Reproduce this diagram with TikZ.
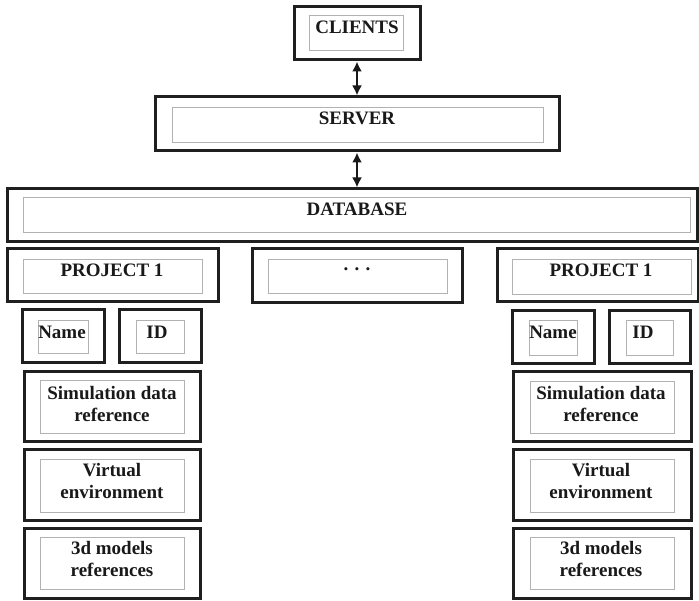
\documentclass[tikz,border=0pt]{standalone}
\usepackage{fontspec}
\setmainfont{Liberation Serif}
\usetikzlibrary{fit,arrows.meta}
\tikzset{
  outerbox/.style={draw=black!88, line width=3pt, inner sep=0pt, fill=white},
  innerbox/.style={draw=black!30, line width=0.9pt, inner sep=0pt},
  lbl/.style={font=\bfseries\fontsize{19}{22}\selectfont, text=black!90, align=center, inner sep=0pt},
  biarrow/.style={line width=2.6pt, draw=black!90, {Latex[length=10pt,width=10pt]}-{Latex[length=10pt,width=10pt]}}
}
\begin{document}
\begin{tikzpicture}[x=1pt,y=-1pt]
\useasboundingbox (0,0) rectangle (699,601);
% Clients
\node[outerbox, fit={(294,7)(420,60)}] (clients) {};
\node[innerbox, fit={(309,15)(403,50)}] (clientsin) {};
\node[lbl] (clientst) at (357,27) {CLIENTS};
% Server
\node[outerbox, fit={(155,97)(559,151)}] (server) {};
\node[innerbox, fit={(172,107)(543,142)}] (serverin) {};
\node[lbl] (servert) at (357,118) {SERVER};
% Database
\node[outerbox, fit={(7,189)(697,242)}] (db) {};
\node[innerbox, fit={(23,197)(690,232)}] (dbin) {};
\node[lbl] (dbt) at (357,209) {DATABASE};
% Arrows
\draw[biarrow] (clients.south) -- (server.north);
\draw[biarrow] (server.south) -- (server.south |- db.north);
% Projects row
\node[outerbox, fit={(7,249)(218,302)}] (p1) {};
\node[innerbox, fit={(23,259)(202,293)}] (p1in) {};
\node[lbl] (p1t) at (112,270) {PROJECT 1};
\node[outerbox, fit={(252,249)(462,303)}] (pm) {};
\node[innerbox, fit={(268,259)(447,293)}] (pmin) {};
\node[lbl] (pmt) at (357,269) {.\,\,.\,\,.};
\node[outerbox, fit={(497,249)(698,302)}] (p2) {};
\node[innerbox, fit={(512,259)(691,294)}] (p2in) {};
\node[lbl] (p2t) at (601,270) {PROJECT 1};
% Left column
\node[outerbox, fit={(22,310)(104,363)}] (ln) {};
\node[innerbox, fit={(38,320)(88,353)}] (lnin) {};
\node[lbl] (lnt) at (62,332) {Name};
\node[outerbox, fit={(119,310)(201,363)}] (lid) {};
\node[innerbox, fit={(136,320)(184,353)}] (lidin) {};
\node[lbl] (lidt) at (157,332) {ID};
\node[outerbox, fit={(24,372)(200,442)}] (ls) {};
\node[innerbox, fit={(40,380)(184,433)}] (lsin) {};
\node[lbl] (lst) at (112,404) {Simulation data\\reference};
\node[outerbox, fit={(24,450)(200,520)}] (lv) {};
\node[innerbox, fit={(40,459)(184,512)}] (lvin) {};
\node[lbl] (lvt) at (112,481) {Virtual\\environment};
\node[outerbox, fit={(24,528)(200,598)}] (lm) {};
\node[innerbox, fit={(40,537)(184,589)}] (lmin) {};
\node[lbl] (lmt) at (112,559) {3d models\\references};
% Right column
\node[outerbox, fit={(512,311)(594,364)}] (rn) {};
\node[innerbox, fit={(529,320)(577,355)}] (rnin) {};
\node[lbl] (rnt) at (553,332) {Name};
\node[outerbox, fit={(609,311)(690,364)}] (rid) {};
\node[innerbox, fit={(626,320)(673,355)}] (ridin) {};
\node[lbl] (ridt) at (643,332) {ID};
\node[outerbox, fit={(513,372)(691,442)}] (rs) {};
\node[innerbox, fit={(530,381)(674,433)}] (rsin) {};
\node[lbl] (rst) at (601,404) {Simulation data\\reference};
\node[outerbox, fit={(513,450)(691,520)}] (rv) {};
\node[innerbox, fit={(530,459)(674,512)}] (rvin) {};
\node[lbl] (rvt) at (601,481) {Virtual\\environment};
\node[outerbox, fit={(513,528)(691,598)}] (rm) {};
\node[innerbox, fit={(530,537)(674,589)}] (rmin) {};
\node[lbl] (rmt) at (601,559) {3d models\\references};
\end{tikzpicture}
\end{document}
